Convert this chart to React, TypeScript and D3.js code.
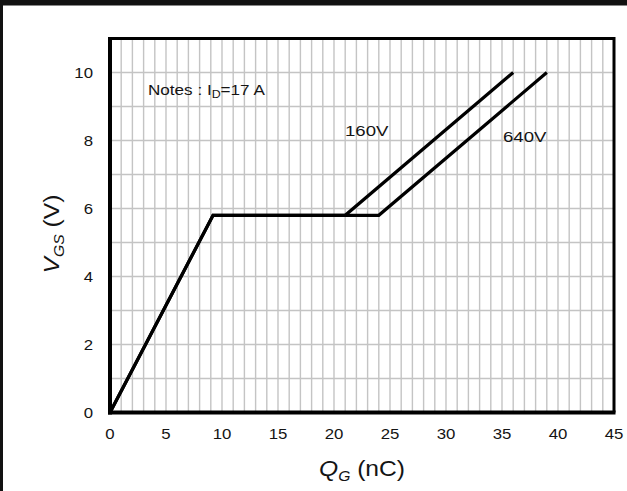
import React from "react";
import * as d3 from "d3";

const xTicks = [0, 5, 10, 15, 20, 25, 30, 35, 40, 45];
const yTicks = [0, 2, 4, 6, 8, 10];
const xMinor = d3.range(0, 46, 1);
const yMinor = d3.range(0, 12, 1);

const q160 = [0, 9.2, 21, 36];
const v160 = [0, 5.8, 5.8, 10];
const q640 = [0, 9.2, 24, 39];
const v640 = [0, 5.8, 5.8, 10];

const W = 627;
const H = 491;
const FONT = "'Liberation Sans', Arial, sans-serif";
const SX = 1.12;

export default function App() {
  const x = d3.scaleLinear().domain([0, 45]).range([110, 614]);
  const y = d3.scaleLinear().domain([0, 11]).range([412.5, 38.5]);
  const line = d3
    .line<[number, number]>()
    .x((d) => x(d[0]))
    .y((d) => y(d[1]));
  const s160 = q160.map((q, i) => [q, v160[i]] as [number, number]);
  const s640 = q640.map((q, i) => [q, v640[i]] as [number, number]);
  const textCol = "#141414";

  return (
    <svg
      width={W}
      height={H}
      style={{ position: "absolute", left: 0, top: 0, background: "#fff" }}
      fontFamily={FONT}
    >
      <rect x={0} y={0} width={W} height={H} fill="#fff" />
      {/* outer frame pieces */}
      <rect x={0} y={0} width={W} height={5.5} fill="#111" />
      <rect x={0} y={0} width={3} height={H} fill="#111" />

      {/* grid */}
      {xMinor.map((v) => (
        <line
          key={"gx" + v}
          x1={x(v)}
          x2={x(v)}
          y1={y(11)}
          y2={y(0)}
          stroke="#c4c4c4"
          strokeWidth={1.4}
        />
      ))}
      {yMinor.map((v) => (
        <line
          key={"gy" + v}
          x1={x(0)}
          x2={x(45)}
          y1={y(v)}
          y2={y(v)}
          stroke="#c4c4c4"
          strokeWidth={1.4}
        />
      ))}

      {/* frame */}
      <line x1={x(0)} x2={x(45)} y1={y(11)} y2={y(11)} stroke="#000" strokeWidth={3} />
      <line x1={x(45)} x2={x(45)} y1={y(11) - 1.5} y2={y(0)} stroke="#000" strokeWidth={3} />
      <line x1={x(0)} x2={x(0)} y1={y(11) - 1.5} y2={y(0) + 2} stroke="#000" strokeWidth={4} />
      <line x1={x(0) - 2} x2={x(45) + 1.5} y1={y(0)} y2={y(0)} stroke="#000" strokeWidth={4} />

      {/* curves */}
      <path d={line(s640) || ""} fill="none" stroke="#000" strokeWidth={3.2} strokeLinejoin="miter" />
      <path d={line(s160) || ""} fill="none" stroke="#000" strokeWidth={3.2} strokeLinejoin="miter" />

      {/* tick labels */}
      {xTicks.map((v) => (
        <text
          key={"xt" + v}
          transform={`translate(${x(v)},439) scale(${SX},1)`}
          textAnchor="middle"
          fontSize={15}
          fill={textCol}
        >
          {v}
        </text>
      ))}
      {yTicks.map((v) => (
        <text
          key={"yt" + v}
          transform={`translate(93,${y(v) + 5.4}) scale(${SX},1)`}
          textAnchor="end"
          fontSize={15}
          fill={textCol}
        >
          {v}
        </text>
      ))}

      {/* annotations */}
      <text transform={`translate(148,95) scale(1.18,1)`} fontSize={14.5} fill={textCol}>
        Notes : I
        <tspan fontSize={10.5} dy={3}>D</tspan>
        <tspan dy={-3}>=17 A</tspan>
      </text>
      <text transform={`translate(345,135.5) scale(1.2,1)`} fontSize={15.5} fill={textCol}>
        160V
      </text>
      <text transform={`translate(503,141.5) scale(1.2,1)`} fontSize={15.5} fill={textCol}>
        640V
      </text>

      {/* axis titles */}
      <text
        transform={`translate(362,476) scale(${SX},1)`}
        textAnchor="middle"
        fontSize={22}
        fill={textCol}
      >
        <tspan fontStyle="italic">Q</tspan>
        <tspan fontStyle="italic" fontSize={14} dy={5}>G</tspan>
        <tspan dy={-5}> (nC)</tspan>
      </text>
      <text
        transform={`translate(59,234) rotate(-90) scale(${SX},1)`}
        textAnchor="middle"
        fontSize={22}
        fill={textCol}
      >
        <tspan fontStyle="italic">V</tspan>
        <tspan fontStyle="italic" fontSize={14} dy={5}>GS</tspan>
        <tspan dy={-5}> (V)</tspan>
      </text>
    </svg>
  );
}
